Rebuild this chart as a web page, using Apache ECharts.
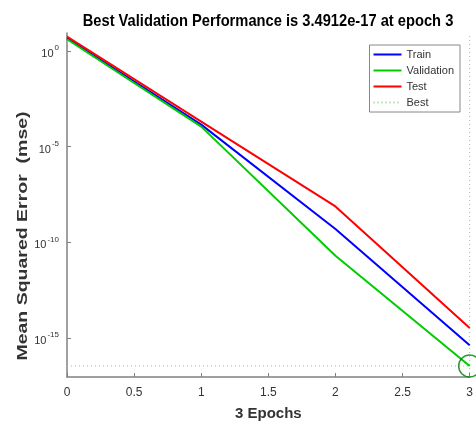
<!DOCTYPE html>
<html>
<head>
<meta charset="utf-8">
<script src="https://cdn.jsdelivr.net/npm/echarts@6/dist/echarts.min.js"></script>
<style>
    html, body { margin: 0; padding: 0; background: #fff; }
    #chart { width: 476px; height: 426px; }
</style>
</head>
<body>
<div id="chart"></div>
<script>
// epochs and mse per set
var epochs = [0, 1, 2, 3];
var trainMse = [4.5, 1.4e-4, 5e-10, 4.2e-16];
var validationMse = [4.0, 1.1e-4, 2e-11, 3.4912e-17];
var testMse = [5.5, 2e-4, 7.5e-9, 3.4e-15];
var bestEpoch = 3;
var bestValue = 3.4912e-17;
var yTickExp = [-15, -10, -5, 0];

var yMin = -17.03;
var yMax = 0.93;

function toPoints(values) {
    return values.map(function (v, i) {
        return [epochs[i], Math.log10(v)];
    });
}

var chart = echarts.init(document.getElementById('chart'), null, {renderer: 'canvas'});
var labelColor = '#333';
var axisColor = '#808080';
var bestLog = Math.log10(bestValue);

chart.setOption({
    backgroundColor: '#fff',
    animation: false,
    grid: {left: 67, right: 3, top: 33, bottom: 44},
    legend: {
        orient: 'vertical',
        right: 16,
        top: 45,
        data: ['Train', 'Validation', 'Test', 'Best'],
        itemWidth: 28,
        itemHeight: 12,
        itemGap: 5,
        itemTextGap: 4,
        padding: [4, 6, 4, 3],
        borderColor: '#888',
        borderWidth: 1,
        itemStyle: {opacity: 0},
        textStyle: {fontFamily: 'Liberation Sans', fontSize: 11, color: labelColor}
    },
    xAxis: {
        type: 'value',
        min: 0,
        max: 3,
        interval: 0.5,
        name: '3 Epochs',
        nameLocation: 'middle',
        nameGap: 29,
        nameTextStyle: {fontFamily: 'Liberation Sans', fontSize: 15, fontWeight: 'bold', color: labelColor},
        axisLine: {onZero: false, lineStyle: {color: axisColor, width: 1.5}},
        axisTick: {inside: true, length: 4, lineStyle: {color: axisColor}},
        axisLabel: {
            fontFamily: 'Liberation Sans', fontSize: 12, color: labelColor, margin: 10,
            formatter: function (v) { return String(v); }
        },
        splitLine: {show: false}
    },
    yAxis: {
        type: 'value',
        min: yMin,
        max: yMax,
        axisLine: {show: true, onZero: false, lineStyle: {color: axisColor, width: 1.5}},
        axisTick: {inside: true, length: 4, lineStyle: {color: axisColor}, customValues: yTickExp},
        axisLabel: {
            customValues: yTickExp,
            margin: 8,
            formatter: function (v) { return '{b|10}{s|' + v + '}'; },
            rich: {
                b: {fontFamily: 'Liberation Sans', fontSize: 11, color: labelColor, padding: [6, 0, 0, 0]},
                s: {fontFamily: 'Liberation Sans', fontSize: 8, color: labelColor, padding: [0, 0, 6, 1]}
            }
        },
        splitLine: {show: false}
    },
    graphic: [
        {
            type: 'text',
            x: 268,
            y: 21,
            scaleY: 1.15,
            style: {
                text: 'Best Validation Performance is 3.4912e-17 at epoch 3',
                fontFamily: 'Liberation Sans',
                fontSize: 14.7,
                fontWeight: 'bold',
                fill: '#000',
                align: 'center',
                verticalAlign: 'middle'
            }
        },
        {
            type: 'text',
            x: 23,
            y: 236,
            rotation: Math.PI / 2,
            scaleX: 1.3,
            style: {
                text: 'Mean Squared Error  (mse)',
                fontFamily: 'Liberation Sans',
                fontSize: 15,
                fontWeight: 'bold',
                fill: labelColor,
                align: 'center',
                verticalAlign: 'middle'
            }
        }
    ],
    series: [
        {
            name: 'Train', type: 'line', symbol: 'none', z: 3,
            data: toPoints(trainMse),
            lineStyle: {color: '#0000ff', width: 2}, itemStyle: {color: '#0000ff'}
        },
        {
            name: 'Validation', type: 'line', symbol: 'none', z: 3,
            data: toPoints(validationMse),
            lineStyle: {color: '#00cc00', width: 2}, itemStyle: {color: '#00cc00'}
        },
        {
            name: 'Test', type: 'line', symbol: 'none', z: 4,
            data: toPoints(testMse),
            lineStyle: {color: '#ff0000', width: 2}, itemStyle: {color: '#ff0000'}
        },
        {
            name: 'Best', type: 'line', symbol: 'none', z: 2,
            data: [[0, bestLog], [bestEpoch, bestLog]],
            lineStyle: {color: '#7fd67f', width: 1, type: [1, 3]}, itemStyle: {color: '#7fd67f'}
        },
        {
            name: 'BestEpoch', type: 'line', symbol: 'none', z: 2,
            data: [[bestEpoch, yMin], [bestEpoch, yMax]],
            lineStyle: {color: '#7fd67f', width: 1, type: [1, 3]}
        },
        {
            name: 'BestPoint', type: 'scatter', clip: false, z: 5,
            symbol: 'circle', symbolSize: 22,
            data: [[bestEpoch, bestLog]],
            itemStyle: {color: 'rgba(0,0,0,0)', borderColor: '#008000', borderWidth: 1.5}
        }
    ]
});
</script>
</body>
</html>
